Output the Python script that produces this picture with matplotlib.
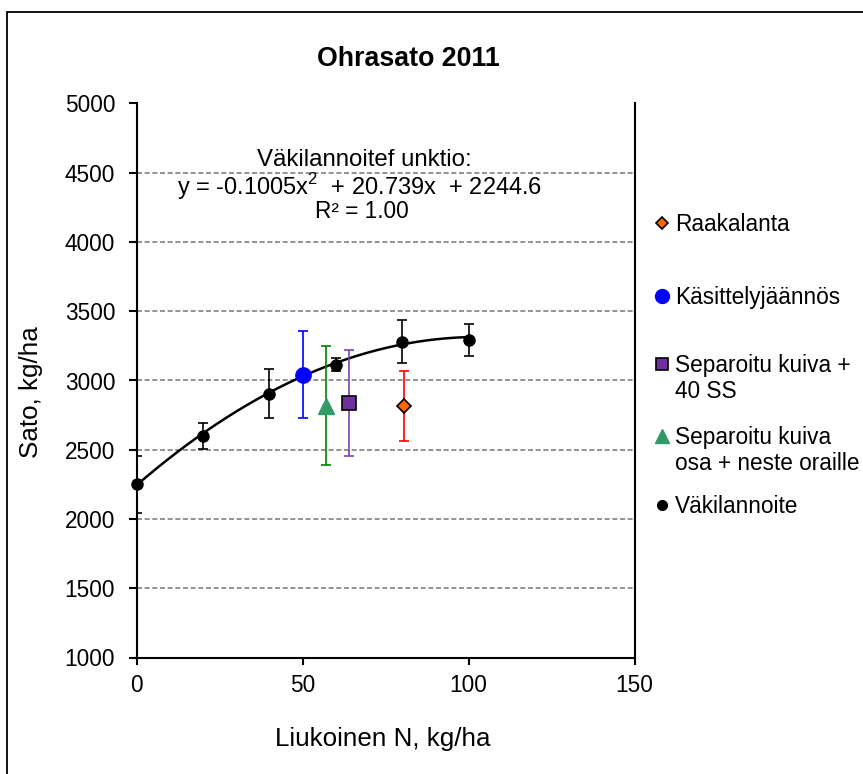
import numpy as np
import matplotlib.pyplot as plt

plt.rcParams['font.family'] = ['Liberation Sans', 'DejaVu Sans']
plt.rcParams['mathtext.fontset'] = 'custom'
plt.rcParams['mathtext.rm'] = 'Liberation Sans'

# Väkilannoite (mineral fertiliser) reference series
n_vaki = [0, 20, 40, 60, 80, 100]
sato_vaki = [2250, 2600, 2905, 3115, 3280, 3290]
err_vaki = [205, 95, 176, 47, 154, 115]

# manure treatments
n_raaka, sato_raaka, err_raaka = [80.5], [2816], [253]
n_kas, sato_kas, err_kas = [50], [3043], [314]
n_sep40, sato_sep40, err_sep40 = [64], [2836], [382]
n_sepor, sato_sepor, err_sepor = [57], [2818], [429]

# fitted quadratic for Väkilannoite
coef = [-0.1005, 20.739, 2244.6]

x_ticks = [0, 50, 100, 150]
y_ticks = list(range(1000, 5001, 500))

W, H = 863, 774
fig = plt.figure(figsize=(W / 100, H / 100), dpi=100)
left, right, top, bottom = 136.7, 634.5, 103.5, 657.5
ax = fig.add_axes([left / W, 1 - bottom / H, (right - left) / W, (bottom - top) / H])

ax.set_xlim(0, 150)
ax.set_ylim(1000, 5000)
ax.set_xticks(x_ticks)
ax.set_yticks(y_ticks)
ax.tick_params(axis='y', direction='out', length=5.5, width=1.5, pad=10, labelsize=16.3)
ax.tick_params(axis='x', direction='out', length=4.7, width=1.5, pad=7, labelsize=16.3)
ax.yaxis.grid(True, color='#808080', lw=1.2, linestyle=(0, (3, 1.6)))
ax.set_axisbelow(True)
ax.spines['top'].set_visible(False)
for s in ['left', 'bottom', 'right']:
    ax.spines[s].set_linewidth(1.5)

# trendline
xs = np.linspace(0, 100, 200)
ax.plot(xs, np.polyval(coef, xs), color='black', lw=1.8, zorder=3)

ebkw = dict(fmt='none', capsize=3.6, elinewidth=1.2, capthick=1.2, zorder=4)
ax.errorbar(n_vaki, sato_vaki, yerr=err_vaki, ecolor='black', **ebkw)
ax.errorbar(n_raaka, sato_raaka, yerr=err_raaka, ecolor='#FF0000', **ebkw)
ax.errorbar(n_kas, sato_kas, yerr=err_kas, ecolor='#0000FF', **ebkw)
ax.errorbar(n_sep40, sato_sep40, yerr=err_sep40, ecolor='#8040B0', **ebkw)
ax.errorbar(n_sepor, sato_sepor, yerr=err_sepor, ecolor='#008000', **ebkw)

ax.plot(n_vaki, sato_vaki, 'o', color='black', ms=8, clip_on=False, zorder=5)
ax.plot(n_raaka, sato_raaka, 'D', mfc='#FF6600', mec='black', mew=1.2, ms=7.5, zorder=5)
ax.plot(n_kas, sato_kas, 'o', color='#0000FF', ms=11, zorder=5)
ax.plot(n_sep40, sato_sep40, 's', mfc='#7030A0', mec='black', mew=1.2, ms=9.5, zorder=5)
ax.plot(n_sepor, sato_sepor, '^', color='#339966', ms=12, zorder=5)

# overlay in pixel coordinates for frame, titles and legend
pix = fig.add_axes([0, 0, 1, 1], zorder=10)
pix.set_xlim(0, W)
pix.set_ylim(H, 0)
pix.axis('off')
pix.patch.set_alpha(0)

pix.plot([7, 7, W + 5], [H + 5, 12, 12], color='black', lw=1.3, solid_joinstyle='miter')

pix.text(408, 66, 'Ohrasato 2011', fontsize=19.3, fontweight='bold', ha='center', va='baseline')
pix.text(383, 746, 'Liukoinen N, kg/ha', fontsize=18.7, ha='center', va='baseline')
pix.text(31, 392, 'Sato, kg/ha', fontsize=18.7, ha='center', va='center', rotation=90)

pix.text(364, 166, 'Väkilannoitef unktio:', fontsize=17.3, ha='center', va='baseline')
pix.text(360, 195, 'y = -0.1005x$^{2}$  + 20.739x  + 2244.6', fontsize=17,
         ha='center', va='baseline')
pix.text(362, 218, 'R² = 1.00', fontsize=16.3, ha='center', va='baseline')

mx, tx = 662, 675
legend_rows = [
    (223, dict(marker='D', mfc='#FF6600', mec='black', mew=1.2, ms=6), ['Raakalanta']),
    (296, dict(marker='o', mfc='#0000FF', mec='#0000FF', ms=10), ['Käsittelyjäännös']),
    (364, dict(marker='s', mfc='#7030A0', mec='black', mew=1.2, ms=9), ['Separoitu kuiva +', '40 SS']),
    (436, dict(marker='^', mfc='#339966', mec='#339966', ms=10), ['Separoitu kuiva', 'osa + neste oraille']),
    (505, dict(marker='o', mfc='black', mec='black', ms=7), ['Väkilannoite']),
]
for yc, mk, lines in legend_rows:
    pix.plot([mx], [yc], linestyle='none', **mk)
    for i, line in enumerate(lines):
        pix.text(tx, yc + 8 + i * 26, line, fontsize=16.3, ha='left', va='baseline')

fig.savefig('out.png', dpi=100, facecolor='white')
